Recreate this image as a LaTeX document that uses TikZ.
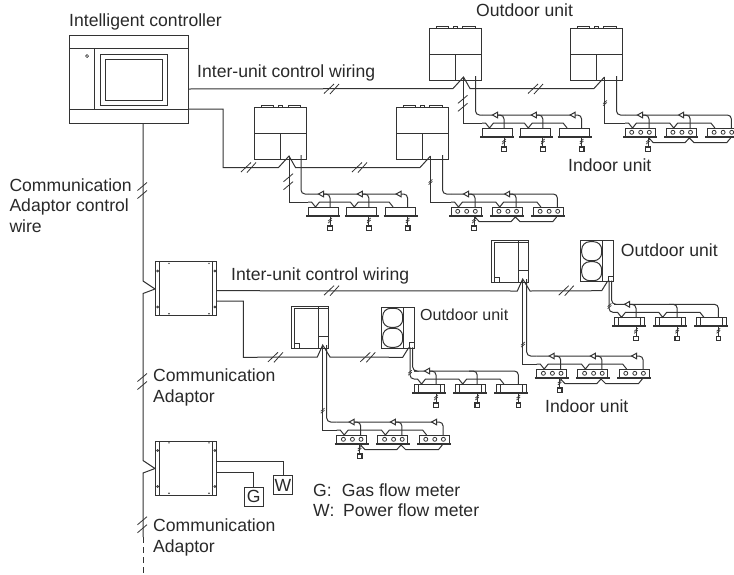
\documentclass[tikz,border=0pt]{standalone}
\usepackage{fontspec}
\setmainfont{Liberation Sans}
\definecolor{linegray}{gray}{0.2}
\definecolor{textgray}{gray}{0.16}
\tikzset{
  wire/.style={line width=1pt, draw=linegray},
  basebar/.style={line width=1.7pt, draw=linegray},
  hull/.style={draw=linegray, line width=1pt, rectangle, inner sep=0pt, outer sep=0pt, anchor=north west},
  txt/.style={font=\fontsize{17.6}{20}\selectfont, text=textgray, inner sep=0pt, anchor=base west},
  txtblock/.style={font=\fontsize{17.6}{20.5}\selectfont, text=textgray, inner sep=0pt, anchor=north west, align=left},
  meter/.style={hull, minimum width=19pt, minimum height=19pt, anchor=north west, font=\fontsize{17.6}{20}\selectfont, text=textgray},
  pics/valve/.style={code={\draw[wire,fill=white] (-2.5,0) -- (2.5,-2.8) -- (2.5,2.8) -- cycle;}},
  pics/dslash/.style={code={\draw[wire,line width=0.8pt] (-8,4.5) -- (2,-5) (-2,5) -- (7,-5);}},
  pics/vslash/.style={code={\draw[wire,line width=0.8pt] (-5.5,0) -- (4,-8) (-5.5,8) -- (4,0);}},
  pics/tick/.style={code={\draw[wire,line width=0.7pt] (-1.8,0.5) -- (1.8,-2.5) (-1.8,2.5) -- (1.8,-0.5);}},
  % square outdoor unit, origin at its top left corner
  pics/squareout/.style={code={
    \node[hull, minimum width=52pt, minimum height=52pt] (-box) at (0,0) {};
    \draw[wire] (0,26) -- (52,26) (26,26) -- (26,52);
    \draw[wire] (7,0) -- (7,-1.6) -- (19,-1.6) -- (19,0) (24,0) -- (24,-1.6) -- (28,-1.6) -- (28,0) (33.5,0) -- (33.5,-1.6) -- (46,-1.6) -- (46,0);
    \coordinate (-wl) at (24,60.5); \coordinate (-peak) at (34.5,49);
    \coordinate (-wr) at (41,60.5); \coordinate (-pipe) at (46.5,48);
  }},
  % side view outdoor unit
  pics/sideout/.style={code={
    \node[hull, minimum width=36.6pt, minimum height=42.3pt] (-box) at (0,0) {};
    \draw[wire] (2.6,42.3) -- (2.6,2) -- (36.6,2) (26.6,0) -- (26.6,42.3) (26.6,30) -- (36.6,30);
    \draw[wire] (2.6,37.3) -- (7.6,37.3) -- (7.6,42.3);
    \coordinate (-wl) at (25.6,51); \coordinate (-peak) at (31,39);
    \coordinate (-wr) at (38.3,51); \coordinate (-pipe) at (35,39);
  }},
  % outdoor unit with two fans
  pics/fanout/.style={code={
    \node[hull, minimum width=32.6pt, minimum height=41pt] (-box) at (0,0) {};
    \draw[wire] (21.6,0) -- (21.6,41);
    \draw[wire,rounded corners=8] (1,1) rectangle (21,20) (1,21) rectangle (21,40);
    \node[hull, minimum width=5.3pt, minimum height=5.6pt] (-port) at (27.3,35.4) {};
    \coordinate (-wl) at (21,50); \coordinate (-peak) at (27,40.3);
    \coordinate (-wire) at (28.3,40); \coordinate (-pipe) at (31,40);
  }},
  pics/adaptorbox/.style={code={
    \node[hull, minimum width=61pt, minimum height=54pt] (-box) at (0,0) {};
    \draw[wire] (3.6,0) -- (3.6,54) (57,0) -- (57,54);
    \foreach \cx in {13.3,53.3} {\fill[linegray] (\cx,1.8) circle (0.8) (\cx,52.2) circle (0.8);}
    \foreach \cx in {1.9,59.2} {\draw[wire,line width=0.6pt] (\cx,9.5) circle (1) (\cx,45.5) circle (1);}
    \coordinate (-vin) at (-12.7,19.5); \coordinate (-tip) at (-0.7,27.5); \coordinate (-vout) at (-12.7,32);
  }},
  % one indoor unit, origin at the top left of its body
  pics/flatunit/.style={code={
    \node[hull, minimum width=30pt, minimum height=8.5pt] (-body) at (0,0) {};
    \draw[basebar] (-2,9) -- (32,9);
    \draw[wire] (22,9) -- (22,19);
    \pic at (22,13.5) {tick};
    \node[hull, line width=1.2pt, minimum size=4.6pt, anchor=north] (-remote) at (22,18.9) {};
  }},
  pics/barunit/.style={code={
    \pic (-in) {flatunit};
    \draw[wire] (4,0) -- (4,8.5) (26,0) -- (26,8.5);
  }},
  pics/circunit/.style={code={
    \node[hull, minimum width=30pt, minimum height=8.5pt] (-body) at (0,0) {};
    \draw[basebar] (-2,9) -- (32,9);
    \foreach \cx in {6.7,15.7,24.3} {\draw[wire,line width=0.8pt] (\cx,4.3) circle (2);}
  }},
  % liquid and signal rows above a set of units: spacing, valves, branch offset
  pics/piperow/.style n args={3}{code={
    \coordinate (-wire) at (0,-5); \coordinate (-pipe) at (0,-13);
    \draw[wire] (0,-5) foreach \i in {0,1} {-- ({\i*#1+3.5},-5) -- ({\i*#1+7.5},0) -- ({\i*#1+11.5},-5)} -- ({2*#1+3.5},-5) -- ({2*#1+7.5},0);
    \draw[wire,rounded corners=4] (0,-13) -- ({2*#1+#3},-13) -- ({2*#1+#3},0);
    \foreach \i in {0,1} {\draw[wire,rounded corners=4] ({\i*#1+#3-8},-13) -| ({\i*#1+#3},0);}
    \foreach \i in {#2} {\pic at ({\i*#1+#3-9},-13) {valve};}
  }},
  pics/flatset/.style={code={
    \foreach \i in {0,1,2} {\pic (-u\i) at ({\i*38.8},0) {flatunit};}
    \pic (-row) {piperow={38.8}{0,1,2}{22}};
  }},
  pics/barset/.style={code={
    \foreach \i in {0,1,2} {\pic (-u\i) at ({\i*41.2},0) {barunit};}
    \pic (-row) {piperow={41.2}{0}{22}};
  }},
  pics/circset/.style={code={
    \foreach \i in {0,1,2} {\pic (-u\i) at ({\i*41.2},0) {circunit};}
    \pic (-row) {piperow={41.2}{#1}{24}};
    \draw[wire] (23,9) -- (28.3,14.7) -- (60,14.7) -- (64.3,10) -- (69,14.7) -- (101.7,14.7) -- (105.6,10);
    \draw[wire] (23,9) -- (23,19);
    \pic at (23,13.5) {tick};
    \node[hull, line width=1.2pt, minimum size=4.6pt, anchor=north] (-remote) at (23,18.9) {};
  }}
}
\begin{document}
\begin{tikzpicture}[x=1pt,y=-1pt]
  \clip (0,0) rectangle (734,574);
  % controller
  \node[hull, minimum width=118.5pt, minimum height=87.5pt] (controller) at (69.5,35.5) {};
  \draw[wire] (controller.west |- 0,48) -- (controller.east |- 0,48) (controller.west |- 0,109) -- (controller.east |- 0,109) (94.5,48) -- (94.5,109);
  \node[hull, minimum width=66.5pt, minimum height=50.5pt] (screen) at (100.5,54.5) {};
  \node[hull, minimum width=57pt, minimum height=41pt] (panel) at (105.5,59) {};
  \draw[wire,line width=0.7pt] (87,56) circle (1.5);
  \coordinate (ctrlA) at (188,89);
  \coordinate (ctrlB) at (188,109);
  \coordinate (ctrlC) at (143,123);
  % upper outdoor units and their indoor sets
  \pic (outA) at (429,28) {squareout};
  \pic (outB) at (570,28) {squareout};
  \pic (outC) at (396,107) {squareout};
  \pic (outD) at (254.5,107) {squareout};
  \pic (setA) at (482,128) {flatset};
  \pic (setB) at (625,128) {circset={0,1}};
  \pic (setC) at (451,207) {circset={0,1}};
  \pic (setD) at (308,207) {flatset};
  \coordinate (turnD) at (223,167.5);
  \draw[wire] (ctrlA) -- (outA-wl) -- (outA-peak) -- (outA-wr) -- (outB-wl) -- (outB-peak);
  \draw[wire] (ctrlB) -| (turnD) -- (outD-wl) -- (outD-peak) -- (outD-wr) -- (outC-wl) -- (outC-peak);
  \foreach \u/\s in {A/A,B/B,C/C,D/D} {
    \draw[wire] (out\u-peak) |- (set\s-row-wire);
    \draw[wire,rounded corners=4] (out\u-pipe) |- (set\s-row-pipe);
  }
  % lower outdoor units and their indoor sets
  \pic (outE) at (291.7,306) {sideout};
  \pic (outF) at (381.7,307.3) {fanout};
  \pic (outH) at (491.7,240) {sideout};
  \pic (outJ) at (580.7,240.7) {fanout};
  \pic (setE) at (336.7,435) {circset={0,1,2}};
  \pic (setF) at (414,384) {barset};
  \pic (setH) at (536.7,369) {circset={0,1,2}};
  \pic (setJ) at (614,317.3) {barset};
  % adaptors and the control wire
  \pic (adaptA) at (155.7,261.5) {adaptorbox};
  \pic (adaptB) at (155.7,441) {adaptorbox};
  \coordinate (adaptAhi) at (216.7,290.7);
  \coordinate (adaptAlo) at (216.7,301);
  \coordinate (turnE) at (243.3,357.3);
  \coordinate (adaptBhi) at (216.7,461);
  \coordinate (adaptBlo) at (216.7,472);
  \coordinate (busEnd) at (143,537);
  \coordinate (busOut) at (143,574);
  \draw[wire] (ctrlC) -- (adaptA-vin) -- (adaptA-tip) -- (adaptA-vout) -- (adaptB-vin) -- (adaptB-tip) -- (adaptB-vout) -- (busEnd);
  \draw[wire,dash pattern=on 6pt off 4pt] (busEnd) -- (busOut);
  \draw[wire] (adaptAhi) -- (outH-wl) -- (outH-peak) -- (outH-wr) -- (outJ-wl) -- (outJ-peak);
  \draw[wire] (adaptAlo) -| (turnE) -- (outE-wl) -- (outE-peak) -- (outE-wr) -- (outF-wl) -- (outF-peak);
  \foreach \u in {E,H} {
    \draw[wire] (out\u-peak) |- (set\u-row-wire);
    \draw[wire,rounded corners=4] (out\u-pipe) |- (set\u-row-pipe);
  }
  \foreach \u/\s in {F/F,J/J} {
    \draw[wire,rounded corners=4] (out\u-wire) |- (set\s-row-wire);
    \draw[wire,rounded corners=4] (out\u-pipe) |- (set\s-row-pipe);
  }
  % meters
  \node[meter] (gasmeter) at (244.3,487) {G};
  \node[meter] (powermeter) at (273.5,475.5) {W};
  \draw[wire] (adaptBhi) -| (powermeter.north);
  \draw[wire] (adaptBlo) -| (gasmeter.north);
  % wire marks
  \foreach \x/\y in {332/89,536/89,249/167.5,360/167.5,332/290.7,566.7/290.7,276/357.3,368.3/357.3} {\pic at (\x,\y) {dslash};}
  \foreach \x/\y in {143/190.5,143/381.5,143/524.7,463.5/103.3,289/181.7} {\pic at (\x,\y) {vslash};}
  \foreach \x/\y in {605/103,430.5/182,322.7/410.7,410/372.7,609.5/306,523/344.5} {\pic at (\x,\y) {tick};}
  % labels
  \node[txt] (lblcontroller) at (69,26) {Intelligent controller};
  \node[txt] (lblwiringA) at (197,77.7) {Inter-unit control wiring};
  \node[txt] (lbloutA) at (476,16.7) {Outdoor unit};
  \node[txt] (lblinA) at (568,171.7) {Indoor unit};
  \node[txtblock] (lblwire) at (9.3,178.3) {Communication\\Adaptor control\\wire};
  \node[txt] (lblwiringB) at (231,280) {Inter-unit control wiring};
  \node[txt] (lbloutB) at (620.7,256) {Outdoor unit};
  \node[txt,font=\fontsize{16}{20}\selectfont] (lbloutC) at (420,320.7) {Outdoor unit};
  \node[txt] (lblinB) at (545,412.7) {Indoor unit};
  \node[txtblock] (lbladaptA) at (153,368.7) {Communication\\Adaptor};
  \node[txtblock] (lbladaptB) at (153,518.7) {Communication\\Adaptor};
  \node[txt] (lblG) at (313,496) {G:};
  \node[txt] (lblGas) at (341.7,496) {Gas flow meter};
  \node[txt] (lblW) at (313,516.7) {W:};
  \node[txt] (lblPower) at (343,516.7) {Power flow meter};
\end{tikzpicture}
\end{document}
